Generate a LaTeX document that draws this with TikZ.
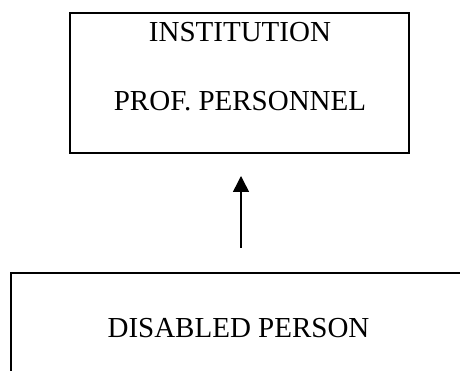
\documentclass[tikz,border=0pt]{standalone}
\usepackage{fontspec}
\setmainfont{Liberation Serif}
\usetikzlibrary{positioning,arrows.meta}

\begin{document}
\begin{tikzpicture}[x=1pt,y=1pt,
    box/.style={draw, line width=1.7pt, inner sep=0pt},
    lbl/.style={inner sep=0pt, anchor=base, font=\fontsize{29}{35}\selectfont}]
    \useasboundingbox (0,0) rectangle (460,371);
    \node (inst) [box, minimum width=339pt, minimum height=140pt] at (239.5,288) {};
    \node (dis) [box, minimum width=455pt, minimum height=108pt] at (238.5,44) {};
    \node (instA) [lbl] at (240,329.3) {INSTITUTION};
    \node (instB) [lbl] at (240,260.3) {PROF. PERSONNEL};
    \node (disA) [lbl] at (238.5,33.7) {DISABLED PERSON};
    \coordinate (tail) at (241,123);
    \coordinate (tip) at (241,195);
    \draw [line width=1.5pt, -{Triangle[width=16pt,length=16pt]}] (tail) -- (tip);
\end{tikzpicture}
\end{document}
